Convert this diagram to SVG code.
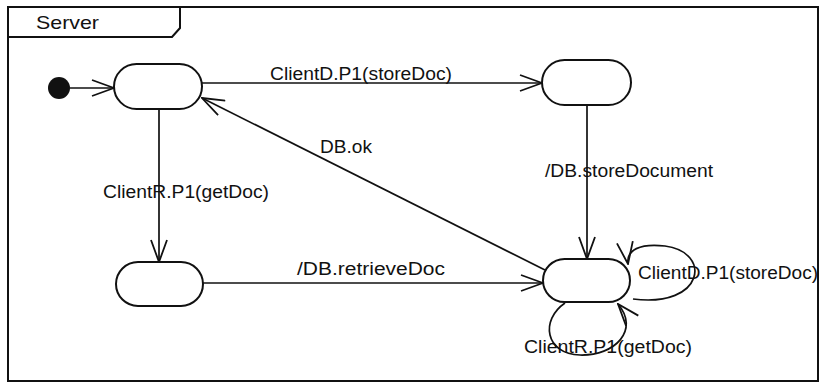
<svg xmlns="http://www.w3.org/2000/svg" width="822" height="385" viewBox="0 0 822 385">
<style>
.frame{fill:none;stroke:#111;stroke-width:2}
.state{fill:#fff;stroke:#111;stroke-width:2}
.edge{fill:none;stroke:#111;stroke-width:1.7;marker-end:url(#arr)}
.lbl{font-family:"Liberation Sans",Arial,sans-serif;font-size:17.5px;fill:#111}
</style>
<defs>
<marker id="arr" viewBox="0 0 24 18" refX="23" refY="9" markerWidth="24" markerHeight="18" markerUnits="userSpaceOnUse" orient="auto">
<path d="M1,1 L23,9 L1,17" fill="none" stroke="#111" stroke-width="1.8"/>
</marker>
</defs>
<rect width="822" height="385" fill="#fff"/>
<g id="frame">
<rect class="frame" x="8" y="7" width="810" height="374"/>
<path class="frame" d="M8,37 L172,37 L180,28 L180,7"/>
<text class="lbl" x="36" y="29" style="font-size:19px" textLength="63" lengthAdjust="spacingAndGlyphs">Server</text>
</g>
<g id="connectors">
<path class="edge" d="M70,88 L114,88"/>
<path class="edge" d="M202,83 L542,83"/>
<path class="edge" d="M159,109 L159,262"/>
<path class="edge" d="M203,283 L543,283"/>
<path class="edge" d="M587,105 L587,259"/>
<path class="edge" d="M545,270 L202,98"/>
<path class="edge" d="M633,299 C705,308 712,252 665,246 C640,243 626,250 628,264"/>
<path class="edge" d="M565,303 C540,320 545,354 580,355 C615,356 640,330 618,304"/>
<text class="lbl" x="270" y="80" textLength="182" lengthAdjust="spacingAndGlyphs">ClientD.P1(storeDoc)</text>
<text class="lbl" x="103" y="198" textLength="166" lengthAdjust="spacingAndGlyphs">ClientR.P1(getDoc)</text>
<text class="lbl" x="320" y="153" textLength="52" lengthAdjust="spacingAndGlyphs">DB.ok</text>
<text class="lbl" x="545" y="177" textLength="168" lengthAdjust="spacingAndGlyphs">/DB.storeDocument</text>
<text class="lbl" x="297" y="275" textLength="148" lengthAdjust="spacingAndGlyphs">/DB.retrieveDoc</text>
<text class="lbl" x="638" y="279" textLength="180" lengthAdjust="spacingAndGlyphs">ClientD.P1(storeDoc)</text>
<text class="lbl" x="524" y="353" textLength="168" lengthAdjust="spacingAndGlyphs">ClientR.P1(getDoc)</text>
</g>
<g id="initial"><circle cx="59" cy="88" r="11" fill="#111"/></g>
<g id="s1"><rect class="state" x="114" y="64" width="88" height="45" rx="22.5"/></g>
<g id="s2"><rect class="state" x="542" y="60" width="89" height="45" rx="22.5"/></g>
<g id="s3"><rect class="state" x="116" y="262" width="87" height="44" rx="22"/></g>
<g id="s4"><rect class="state" x="543" y="259" width="87" height="43" rx="21.5"/></g>
</svg>
